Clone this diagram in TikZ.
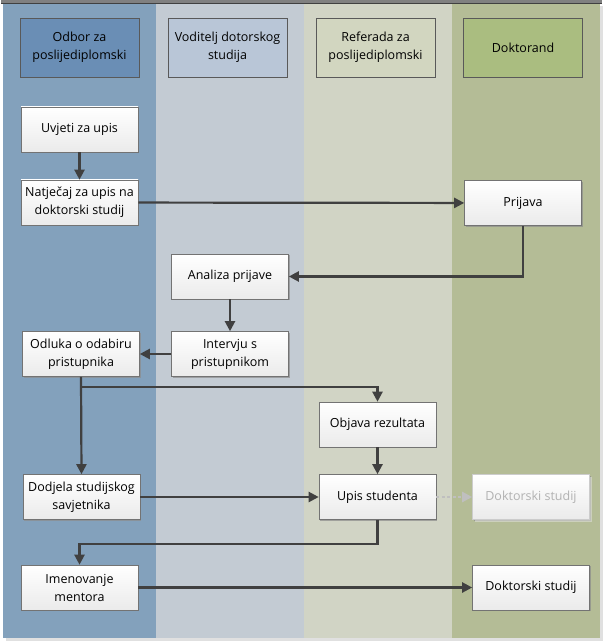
\documentclass[tikz,border=0pt]{standalone}
\usepackage{fontspec}
\setmainfont{Open Sans}
\usetikzlibrary{arrows.meta,shadows}

\definecolor{laneA}{HTML}{83A1BC}
\definecolor{laneB}{HTML}{C3CBD3}
\definecolor{laneC}{HTML}{D1D4C5}
\definecolor{laneD}{HTML}{B4BC96}
\definecolor{headA}{HTML}{6A8EB5}
\definecolor{headB}{HTML}{B9C6D7}
\definecolor{headC}{HTML}{D2D6C0}
\definecolor{headD}{HTML}{AABD80}
\definecolor{linegray}{HTML}{404040}

\tikzset{
  head/.style={draw=black!65, line width=0.8pt, minimum width=119pt, minimum height=59pt,
    align=center, font=\fontsize{12.5}{18}\selectfont},
  task/.style={draw=black!55, line width=0.6pt, top color=white, bottom color=black!8,
    minimum width=117pt, minimum height=45pt, align=center, inner sep=2pt,
    font=\fontsize{12.5}{18}\selectfont,
    drop shadow={shadow xshift=1.2pt, shadow yshift=-1.2pt, fill=black!45, opacity=0.7}},
  flow/.style={draw=linegray, line width=2.2pt, -{Triangle[length=10pt,width=10pt]}},
  ghost/.style={draw=black!25, line width=2.2pt, dash pattern=on 3pt off 2.5pt,
    -{Triangle[length=10pt,width=10pt]}}
}

\begin{document}
\begin{tikzpicture}[x=1pt,y=-1pt]
\useasboundingbox (0,0) rectangle (605,644);
\fill[white] (0,0) rectangle (605,644);

% swimlanes
\fill[black!12] (6,6) rectangle (603,641);
\fill[laneA] (3,3) rectangle (156,638);
\fill[laneB] (156,3) rectangle (304,638);
\fill[laneC] (304,3) rectangle (452,638);
\fill[laneD] (452,3) rectangle (600,638);
\fill[black!50] (1,0) rectangle (602,3);
\draw[black!75, line width=0.8pt] (1,3) -- (602,3);

% lane headers
\node[head, fill=headA] (hodbor) at (79.5,47.5) {Odbor za\\poslijediplomski};
\node[head, fill=headB] (hvoditelj) at (227.5,47.5) {Voditelj dotorskog\\studija};
\node[head, fill=headC] (hreferada) at (375.5,47.5) {Referada za\\poslijediplomski};
\node[head, fill=headD] (hdoktorand) at (523,47.5) {Doktorand};

% tasks
\node[task] (uvjeti) at (79.5,129.5) {Uvjeti za upis};
\node[task] (natjecaj) at (79.5,202.5) {Natječaj za upis na\\doktorski studij};
\node[task] (prijava) at (523,203) {Prijava};
\node[task] (analiza) at (230,276.5) {Analiza prijave};
\node[task] (intervju) at (230,354) {Intervju s\\pristupnikom};
\node[task] (odluka) at (81,354) {Odluka o odabiru\\pristupnika};
\node[task] (objava) at (377.5,424.5) {Objava rezultata};
\node[task] (dodjela) at (81.5,497) {Dodjela studijskog\\savjetnika};
\node[task] (upis) at (377.5,497) {Upis studenta};
\node[task, draw=black!20, text=black!30, drop shadow={fill=black!10}] (studijA) at (531,497) {Doktorski studij};
\node[task] (imenovanje) at (79.5,587.5) {Imenovanje\\mentora};
\node[task] (studijB) at (531,587.5) {Doktorski studij};

% connectors
\draw[flow] (uvjeti) -- (natjecaj);
\draw[flow] (natjecaj) -- (prijava);
\draw[flow] (prijava.south) |- (analiza.east);
\draw[flow] (analiza) -- (intervju);
\draw[flow] (intervju) -- (odluka);
\draw[flow] (odluka.south) -- (dodjela.north);
\coordinate (fork) at ([yshift=-10.5pt]odluka.south);
\draw[flow] (fork) -| (objava.north);
\draw[flow] (objava) -- (upis);
\draw[flow] (dodjela) -- (upis);
\draw[ghost] (upis) -- (studijA);
\draw[flow] (upis.south) -- ++(0,24) -| (imenovanje.north);
\draw[flow] (imenovanje) -- (studijB);

\end{tikzpicture}
\end{document}
